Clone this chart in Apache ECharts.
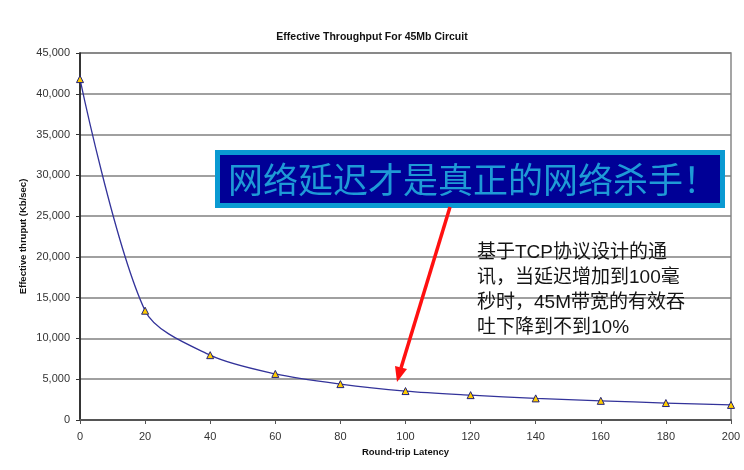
<!DOCTYPE html>
<html>
<head>
<meta charset="utf-8">
<script src="https://cdn.jsdelivr.net/npm/echarts@6/dist/echarts.min.js"></script>
<style>html,body{margin:0;padding:0;background:#fff}#c{width:744px;height:470px}</style>
</head>
<body>
<div id="c"></div>
<script>
var latency = [0, 20, 40, 60, 80, 100, 120, 140, 160, 180, 200];
var thruput = [41800, 13400, 7950, 5650, 4400, 3550, 3050, 2650, 2350, 2080, 1850];
var yTicks = [0, 5000, 10000, 15000, 20000, 25000, 30000, 35000, 40000, 45000];
var titleText = 'Effective Throughput For 45Mb Circuit';
var xName = 'Round-trip Latency';
var yName = 'Effective thruput (Kb/sec)';
var bannerText = '网络延迟才是真正的网络杀手！';
var noteLines = ['基于TCP协议设计的通', '讯，当延迟增加到100毫', '秒时，45M带宽的有效吞', '吐下降到不到10%'];

var chart = echarts.init(document.getElementById('c'));
var pts = latency.map(function (x, i) { return [x, thruput[i]]; });
chart.setOption({
  animation: false,
  backgroundColor: '#fff',
  title: {
    text: titleText, left: 'center', top: 27,
    textStyle: { fontFamily: 'Liberation Sans', fontSize: 10.5, fontWeight: 'bold', color: '#111' }
  },
  grid: { left: 80, right: 13, top: 53, bottom: 50, show: true, borderColor: '#888', borderWidth: 1.5, backgroundColor: 'transparent' },
  xAxis: {
    type: 'value', min: 0, max: 200, interval: 20,
    name: xName, nameLocation: 'middle', nameGap: 24,
    nameTextStyle: { fontFamily: 'Liberation Sans', fontSize: 9.5, fontWeight: 'bold', color: '#111' },
    axisLine: { lineStyle: { color: '#555', width: 2 } },
    axisTick: { show: true, inside: false, length: 4, lineStyle: { color: '#555' } },
    axisLabel: { fontFamily: 'Liberation Sans', fontSize: 11, color: '#333', margin: 11 },
    splitLine: { show: false }
  },
  yAxis: {
    type: 'value', min: 0, max: 45000, interval: 5000,
    name: yName, nameLocation: 'middle', nameGap: 52, nameMoveOverlap: false,
    nameTextStyle: { fontFamily: 'Liberation Sans', fontSize: 9.5, fontWeight: 'bold', color: '#111' },
    axisLine: { show: true, lineStyle: { color: '#111', width: 1.5 } },
    axisTick: { show: true, inside: false, length: 4, lineStyle: { color: '#333' } },
    axisLabel: {
      fontFamily: 'Liberation Sans', fontSize: 11, color: '#333', margin: 10,
      formatter: function (v) { return yTicks.indexOf(v) >= 0 ? v.toLocaleString('en-US') : ''; }
    },
    splitLine: { show: true, lineStyle: { color: '#808080', width: 1.5 } }
  },
  series: [{
    type: 'line', data: pts, smooth: 0.3,
    lineStyle: { color: '#33339a', width: 1.3 },
    symbol: 'triangle', symbolSize: 7,
    itemStyle: { color: '#ffcc00', borderColor: '#222277', borderWidth: 1 }
  }],
  graphic: [
    { type: 'rect', shape: { x: 215, y: 150, width: 510, height: 58 }, style: { fill: '#0a9ad2' }, z: 100 },
    { type: 'rect', shape: { x: 220, y: 155, width: 500, height: 48 }, style: { fill: '#000096' }, z: 101 },
    { type: 'text', x: 228, y: 180, z: 102,
      style: { text: bannerText, fill: '#1e9ad6', font: '35px "Noto Sans CJK SC"', textVerticalAlign: 'middle', verticalAlign: 'middle' } },
    { type: 'text', x: 477, y: 240, z: 102,
      style: { text: noteLines.join('\n'), fill: '#151515', font: '19px "Liberation Sans", "Noto Sans CJK SC"', lineHeight: 25 } },
    { type: 'line', shape: { x1: 450, y1: 207, x2: 401, y2: 368 }, style: { stroke: '#ff1010', lineWidth: 3.5 }, z: 103 },
    { type: 'polygon', shape: { points: [[397, 382], [407, 369], [395, 366]] }, style: { fill: '#ff1010' }, z: 103 }
  ]
});
</script>
</body>
</html>
